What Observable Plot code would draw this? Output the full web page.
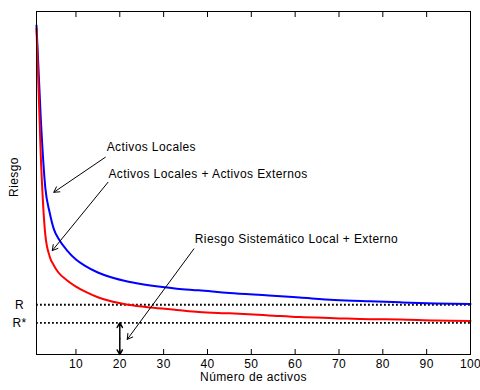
<!DOCTYPE html>
<html>
<head>
<meta charset="utf-8">
<script src="https://cdn.jsdelivr.net/npm/d3@7"></script>
<script src="https://cdn.jsdelivr.net/npm/@observablehq/plot@0.6"></script>
<style>
  html, body { margin: 0; padding: 0; background: #fff; }
  #chart text { letter-spacing: 0.4px; }
</style>
</head>
<body>
<div id="chart"></div>
<script>
// Number of assets
const nAssets = [1, 2, 3, 4, 5, 6, 8, 10, 12, 15, 18, 22, 27, 33, 38, 45, 54, 61, 69, 77, 84, 92, 100];
// Risk: local assets only (blue)
const riskLocal = [95.9, 68.2, 48.7, 41.4, 36.4, 33.8, 30.3, 27.7, 25.9, 23.9, 22.5, 21.2, 20.1, 19.2, 18.7, 17.9, 17.2, 16.6, 15.9, 15.5, 15.2, 14.9, 14.7];
// Risk: local + foreign assets (red)
const riskGlobal = [95.0, 57.1, 35.0, 28.6, 25.9, 23.9, 21.6, 19.8, 18.4, 16.7, 15.5, 14.5, 13.7, 13.0, 12.4, 12.0, 11.4, 10.9, 10.6, 10.3, 10.2, 9.9, 9.8];
// Reference levels
const levelNames = ["R", "R*"];
const levelValues = [14.5, 9.2];
// Tick labels
const xTicks = [10, 20, 30, 40, 50, 60, 70, 80, 90, 100];
// Annotations (text, text anchor point, arrow start, arrow end) in data units
const annLabels = ["Activos Locales", "Activos Locales + Activos Externos", "Riesgo Sistemático Local + Externo"];
const annTextX = [17.0, 17.4, 37.1];
const annTextY = [60.4, 52.7, 33.5];
const annFromX = [16.7, 17.3, 36.9];
const annFromY = [57.5, 50.2, 30.8];
const annToX = [4.95, 4.6, 21.7];
const annToY = [47.3, 30.3, 4.4];
// Double arrow showing the reduction at n = 20
const gapX = 20;

const blue = nAssets.map((n, i) => ({n, r: riskLocal[i]}));
const red = nAssets.map((n, i) => ({n, r: riskGlobal[i]}));
const levels = levelNames.map((name, i) => ({name, v: levelValues[i]}));
const anns = annLabels.map((t, i) => ({t, tx: annTextX[i], ty: annTextY[i], x1: annFromX[i], y1: annFromY[i], x2: annToX[i], y2: annToY[i]}));
const gapMid = levelValues[1] / 2;
const gapArrows = [
  {x1: gapX, y1: gapMid, x2: gapX, y2: levelValues[1]},
  {x1: gapX, y1: gapMid, x2: gapX, y2: 0}
];

const font = "'Liberation Sans', Arial, Helvetica, sans-serif";

const chart = Plot.plot({
  width: 480,
  height: 390,
  marginLeft: 36,
  marginRight: 10,
  marginTop: 11,
  marginBottom: 36,
  style: {fontFamily: font, fontSize: "12px", background: "#fff", color: "#000", overflow: "visible"},
  x: {domain: [1, 100]},
  y: {domain: [0, 100], axis: null},
  marks: [
    Plot.ruleY(levels, {y: "v", stroke: "#000", strokeWidth: 1.8, strokeDasharray: "1.8,2.2"}),
    Plot.line(blue, {x: "n", y: "r", stroke: "#0000ff", strokeWidth: 2, curve: "monotone-x"}),
    Plot.line(red, {x: "n", y: "r", stroke: "#ff0000", strokeWidth: 2, curve: "monotone-x"}),
    Plot.frame({stroke: "#000", strokeWidth: 1}),
    Plot.axisX(xTicks, {anchor: "bottom", tickSize: -5, tickPadding: 10, label: null, fontSize: 12}),
    Plot.axisX(xTicks, {anchor: "top", tickSize: -5, tickFormat: () => "", label: null}),
    Plot.text(levels, {y: "v", text: "name", frameAnchor: "left", dx: -17, textAnchor: "middle", fontSize: 12, fill: "#000"}),
    Plot.text(["Riesgo"], {frameAnchor: "left", dx: -22, dy: -6, rotate: -90, textAnchor: "middle", fontSize: 12, fill: "#000"}),
    Plot.text(["Número de activos"], {frameAnchor: "bottom", dy: 26, fontSize: 12, fill: "#000"}),
    Plot.text(anns, {x: "tx", y: "ty", text: "t", textAnchor: "start", fontSize: 12, fill: "#000"}),
    Plot.arrow(anns, {x1: "x1", y1: "y1", x2: "x2", y2: "y2", stroke: "#000", strokeWidth: 1, headLength: 9}),
    Plot.arrow(gapArrows, {x1: "x1", y1: "y1", x2: "x2", y2: "y2", stroke: "#000", strokeWidth: 1.5, headLength: 9})
  ]
});
document.getElementById("chart").appendChild(chart);
</script>
</body>
</html>
